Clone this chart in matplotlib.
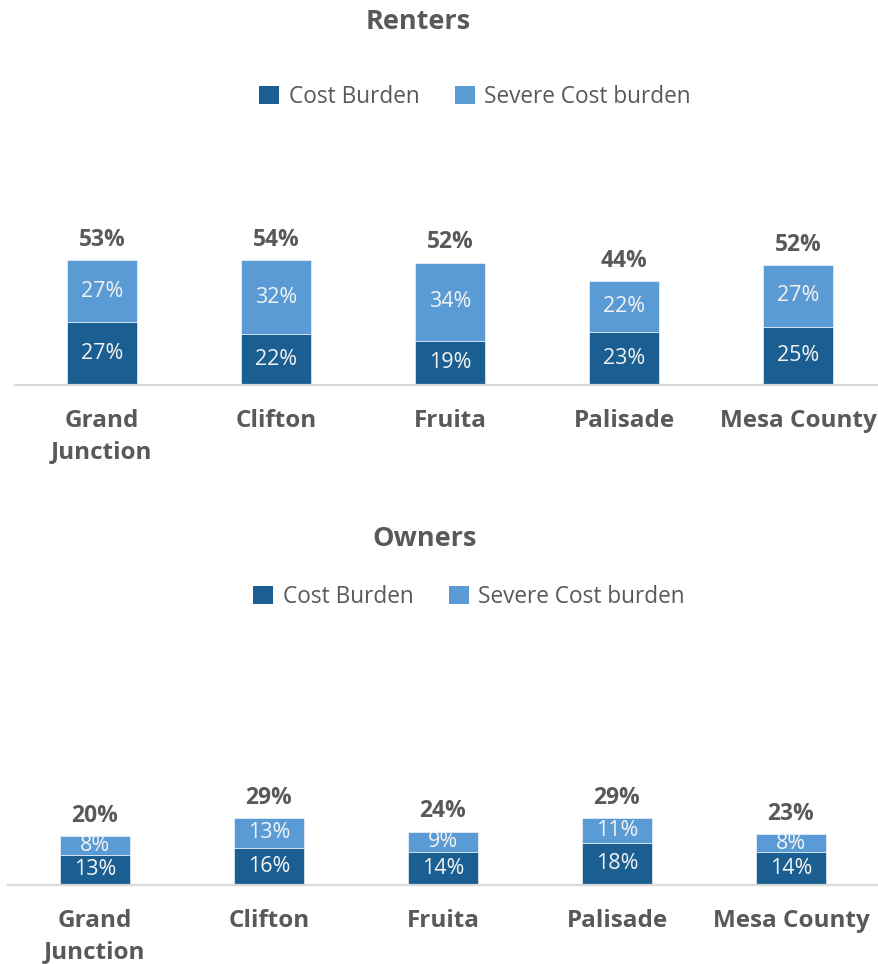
import matplotlib
matplotlib.use("Agg")
import matplotlib.pyplot as plt
from matplotlib.patches import Patch

plt.rcParams['font.family'] = ['Open Sans', 'DejaVu Sans']

categories = ["Grand\nJunction", "Clifton", "Fruita", "Palisade", "Mesa County"]

renters_cost = [27, 22, 19, 23, 25]
renters_severe = [27, 32, 34, 22, 27]
renters_total = [53, 54, 52, 44, 52]

owners_cost = [13, 16, 14, 18, 14]
owners_severe = [8, 13, 9, 11, 8]
owners_total = [20, 29, 24, 29, 23]

DARK = "#1B5E91"
LIGHT = "#5B9BD5"
TEXT = "#595959"
GRID = "#D9D9D9"

W, H = 879, 964
fig = plt.figure(figsize=(W / 100, H / 100), dpi=100)


def panel(left_px, baseline_px, cost, severe, total, title, title_xy, legend_xy):
    ax = fig.add_axes([left_px / W, (H - baseline_px) / H, 870 / W, 230 / H])
    x = list(range(len(categories)))
    b1 = ax.bar(x, cost, width=0.40, color=DARK, edgecolor="white", linewidth=0.4)
    b2 = ax.bar(x, severe, width=0.40, bottom=cost, color=LIGHT, edgecolor="white", linewidth=0.4)
    ax.bar_label(b1, labels=[f"{v}%" for v in cost], label_type="center",
                 color="#F2F2F2", fontsize=15.5)
    ax.bar_label(b2, labels=[f"{v}%" for v in severe], label_type="center",
                 color="#F2F2F2", fontsize=15.5)
    for xi, c, s, t in zip(x, cost, severe, total):
        ax.annotate(f"{t}%", (xi, c + s), xytext=(0, 14.5), textcoords="offset points",
                    ha="center", va="center", fontsize=16.5, fontweight="bold", color=TEXT)
    ax.set_xlim(-0.5, len(categories) - 0.5)
    ax.set_ylim(0, 100)
    ax.set_yticks([])
    ax.set_xticks(x)
    ax.set_xticklabels(categories, fontsize=17.5, fontweight="bold", color=TEXT,
                       linespacing=1.38)
    ax.tick_params(axis="x", length=0, pad=17.5)
    for side in ("left", "right", "top"):
        ax.spines[side].set_visible(False)
    ax.spines["bottom"].set_color(GRID)
    ax.spines["bottom"].set_linewidth(1.6)
    ax.set_facecolor("none")

    fig.text(title_xy[0] / W, 1 - title_xy[1] / H, title, ha="center", va="center",
             fontsize=19.5, fontweight="bold", color=TEXT)
    handles = [Patch(facecolor=DARK, label="Cost Burden"),
               Patch(facecolor=LIGHT, label="Severe Cost burden")]
    fig.legend(handles=handles, loc="center",
               bbox_to_anchor=(legend_xy[0] / W, 1 - legend_xy[1] / H),
               ncol=2, frameon=False, fontsize=16.3, labelcolor=TEXT,
               handlelength=0.88, handleheight=0.88, handletextpad=0.44,
               columnspacing=1.55)
    return ax


panel(15, 384.5, renters_cost, renters_severe, renters_total,
      "Renters", (418.5, 22), (475, 97))
panel(8, 884.5, owners_cost, owners_severe, owners_total,
      "Owners", (425, 539), (469, 597))

fig.savefig("out.png", dpi=100, facecolor="white")
